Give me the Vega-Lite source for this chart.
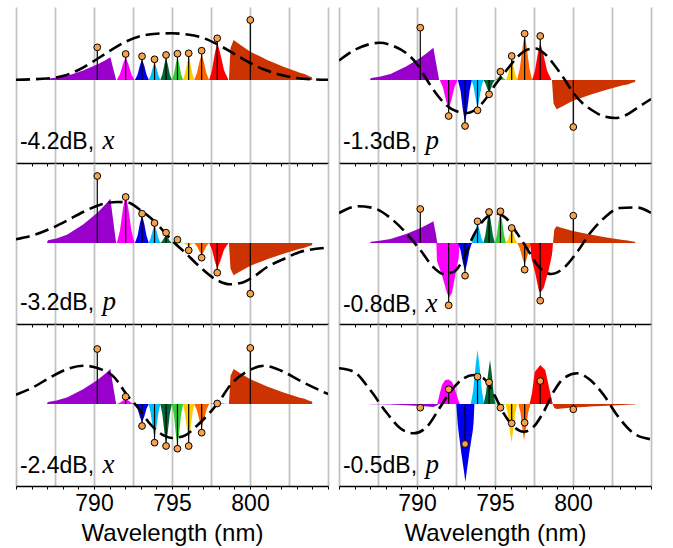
{
"$schema": "https://vega.github.io/schema/vega-lite/v6.json",
"padding": {"left": 15, "top": 7, "right": 5, "bottom": 5},
"background": "white",
"datasets": {"d": [
{"p":1,"c":"v","x":786.98,"y":0},{"p":1,"c":"v","x":787.05,"y":1.4},{"p":1,"c":"v","x":787.6,"y":2.3},{"p":1,"c":"v","x":788.3,"y":4.3},{"p":1,"c":"v","x":789.3,"y":9.5},{"p":1,"c":"v","x":790.2,"y":15.4},{"p":1,"c":"v","x":790.7,"y":19.5},{"p":1,"c":"v","x":791.05,"y":22.7},{"p":1,"c":"v","x":791.25,"y":10.2},{"p":1,"c":"v","x":791.42,"y":0},
{"p":1,"c":"m","x":791.46,"y":0},{"p":1,"c":"m","x":791.66,"y":5.7},{"p":1,"c":"m","x":791.86,"y":15.9},{"p":1,"c":"m","x":792.03,"y":22.7},{"p":1,"c":"m","x":792.2,"y":15.9},{"p":1,"c":"m","x":792.4,"y":5.7},{"p":1,"c":"m","x":792.6,"y":0},
{"p":1,"c":"bl","x":792.62,"y":0},{"p":1,"c":"bl","x":792.79,"y":5.2},{"p":1,"c":"bl","x":792.94,"y":14.5},{"p":1,"c":"bl","x":793.08,"y":20.7},{"p":1,"c":"bl","x":793.22,"y":14.5},{"p":1,"c":"bl","x":793.37,"y":5.2},{"p":1,"c":"bl","x":793.52,"y":0},
{"p":1,"c":"cy","x":793.5,"y":0},{"p":1,"c":"cy","x":793.63,"y":4.4},{"p":1,"c":"cy","x":793.77,"y":12.4},{"p":1,"c":"cy","x":793.88,"y":17.7},{"p":1,"c":"cy","x":793.99,"y":12.4},{"p":1,"c":"cy","x":794.13,"y":4.4},{"p":1,"c":"cy","x":794.26,"y":0},
{"p":1,"c":"dg","x":794.25,"y":0},{"p":1,"c":"dg","x":794.38,"y":5.5},{"p":1,"c":"dg","x":794.51,"y":15.4},{"p":1,"c":"dg","x":794.62,"y":22},{"p":1,"c":"dg","x":794.73,"y":15.4},{"p":1,"c":"dg","x":794.86,"y":5.5},{"p":1,"c":"dg","x":794.99,"y":0},
{"p":1,"c":"g","x":794.99,"y":0},{"p":1,"c":"g","x":795.12,"y":5.8},{"p":1,"c":"g","x":795.24,"y":16.1},{"p":1,"c":"g","x":795.35,"y":23},{"p":1,"c":"g","x":795.46,"y":16.1},{"p":1,"c":"g","x":795.58,"y":5.8},{"p":1,"c":"g","x":795.71,"y":0},
{"p":1,"c":"y","x":795.7,"y":0},{"p":1,"c":"y","x":795.83,"y":5.9},{"p":1,"c":"y","x":795.96,"y":16.5},{"p":1,"c":"y","x":796.07,"y":23.5},{"p":1,"c":"y","x":796.18,"y":16.5},{"p":1,"c":"y","x":796.31,"y":5.9},{"p":1,"c":"y","x":796.44,"y":0},
{"p":1,"c":"o","x":796.42,"y":0},{"p":1,"c":"o","x":796.59,"y":6.5},{"p":1,"c":"o","x":796.76,"y":18.2},{"p":1,"c":"o","x":796.9,"y":26},{"p":1,"c":"o","x":797.04,"y":18.2},{"p":1,"c":"o","x":797.21,"y":6.5},{"p":1,"c":"o","x":797.38,"y":0},
{"p":1,"c":"r","x":797.38,"y":0},{"p":1,"c":"r","x":797.56,"y":9.4},{"p":1,"c":"r","x":797.74,"y":26.3},{"p":1,"c":"r","x":797.9,"y":37.5},{"p":1,"c":"r","x":798.1,"y":26.3},{"p":1,"c":"r","x":798.34,"y":9.4},{"p":1,"c":"r","x":798.62,"y":0},
{"p":1,"c":"or","x":798.65,"y":0},{"p":1,"c":"or","x":798.75,"y":32},{"p":1,"c":"or","x":798.95,"y":40},{"p":1,"c":"or","x":799.3,"y":36},{"p":1,"c":"or","x":800.0,"y":28.4},{"p":1,"c":"or","x":800.7,"y":23.2},{"p":1,"c":"or","x":801.1,"y":20},{"p":1,"c":"or","x":802.15,"y":13.2},{"p":1,"c":"or","x":803.2,"y":7.2},{"p":1,"c":"or","x":803.5,"y":6},{"p":1,"c":"or","x":803.75,"y":4},{"p":1,"c":"or","x":803.97,"y":2.8},{"p":1,"c":"or","x":804.0,"y":0},
{"p":1,"c":"ds","x":785,"y":0.3},{"p":1,"c":"ds","x":786,"y":0.7},{"p":1,"c":"ds","x":787,"y":1.5},{"p":1,"c":"ds","x":788,"y":4},{"p":1,"c":"ds","x":789,"y":10},{"p":1,"c":"ds","x":790,"y":19},{"p":1,"c":"ds","x":791,"y":29},{"p":1,"c":"ds","x":792,"y":38},{"p":1,"c":"ds","x":793,"y":44},{"p":1,"c":"ds","x":794,"y":46.3},{"p":1,"c":"ds","x":795,"y":46.7},{"p":1,"c":"ds","x":796,"y":45.5},{"p":1,"c":"ds","x":797,"y":42},{"p":1,"c":"ds","x":798,"y":35},{"p":1,"c":"ds","x":799,"y":26},{"p":1,"c":"ds","x":800,"y":17},{"p":1,"c":"ds","x":801,"y":10},{"p":1,"c":"ds","x":802,"y":5},{"p":1,"c":"ds","x":803,"y":2},{"p":1,"c":"ds","x":804,"y":0.7},{"p":1,"c":"ds","x":805,"y":0.3},
{"p":1,"c":"st","x":790.21,"y":32.7},{"p":1,"c":"st","x":792.03,"y":26},{"p":1,"c":"st","x":793.08,"y":23.7},{"p":1,"c":"st","x":793.88,"y":20.7},{"p":1,"c":"st","x":794.62,"y":25},{"p":1,"c":"st","x":795.35,"y":26.3},{"p":1,"c":"st","x":796.07,"y":26.7},{"p":1,"c":"st","x":796.9,"y":29.3},{"p":1,"c":"st","x":797.9,"y":41.7},{"p":1,"c":"st","x":800.02,"y":60},

{"p":2,"c":"v","x":786.98,"y":0},{"p":2,"c":"v","x":787.05,"y":1.9},{"p":2,"c":"v","x":787.6,"y":3.2},{"p":2,"c":"v","x":788.3,"y":6.1},{"p":2,"c":"v","x":789.3,"y":13.6},{"p":2,"c":"v","x":790.2,"y":22},{"p":2,"c":"v","x":790.7,"y":27.8},{"p":2,"c":"v","x":791.05,"y":32.3},{"p":2,"c":"v","x":791.25,"y":14.5},{"p":2,"c":"v","x":791.42,"y":0},
{"p":2,"c":"m","x":791.46,"y":0},{"p":2,"c":"m","x":791.66,"y":-7.3},{"p":2,"c":"m","x":791.86,"y":-20.5},{"p":2,"c":"m","x":792.03,"y":-29.3},{"p":2,"c":"m","x":792.2,"y":-20.5},{"p":2,"c":"m","x":792.4,"y":-7.3},{"p":2,"c":"m","x":792.6,"y":0},
{"p":2,"c":"bl","x":792.62,"y":0},{"p":2,"c":"bl","x":792.79,"y":-10.7},{"p":2,"c":"bl","x":792.94,"y":-29.9},{"p":2,"c":"bl","x":793.08,"y":-42.7},{"p":2,"c":"bl","x":793.22,"y":-29.9},{"p":2,"c":"bl","x":793.37,"y":-10.7},{"p":2,"c":"bl","x":793.52,"y":0},
{"p":2,"c":"cy","x":793.5,"y":0},{"p":2,"c":"cy","x":793.63,"y":-6.9},{"p":2,"c":"cy","x":793.77,"y":-19.4},{"p":2,"c":"cy","x":793.88,"y":-27.7},{"p":2,"c":"cy","x":793.99,"y":-19.4},{"p":2,"c":"cy","x":794.13,"y":-6.9},{"p":2,"c":"cy","x":794.26,"y":0},
{"p":2,"c":"dg","x":794.25,"y":0},{"p":2,"c":"dg","x":794.38,"y":-3.2},{"p":2,"c":"dg","x":794.51,"y":-8.9},{"p":2,"c":"dg","x":794.62,"y":-12.7},{"p":2,"c":"dg","x":794.73,"y":-8.9},{"p":2,"c":"dg","x":794.86,"y":-3.2},{"p":2,"c":"dg","x":794.99,"y":0},
{"p":2,"c":"g","x":794.99,"y":0},{"p":2,"c":"g","x":795.12,"y":1.2},{"p":2,"c":"g","x":795.24,"y":3.3},{"p":2,"c":"g","x":795.35,"y":4.7},{"p":2,"c":"g","x":795.46,"y":3.3},{"p":2,"c":"g","x":795.58,"y":1.2},{"p":2,"c":"g","x":795.71,"y":0},
{"p":2,"c":"y","x":795.7,"y":0},{"p":2,"c":"y","x":795.83,"y":5.2},{"p":2,"c":"y","x":795.96,"y":14.5},{"p":2,"c":"y","x":796.07,"y":20.7},{"p":2,"c":"y","x":796.18,"y":14.5},{"p":2,"c":"y","x":796.31,"y":5.2},{"p":2,"c":"y","x":796.44,"y":0},
{"p":2,"c":"o","x":796.42,"y":0},{"p":2,"c":"o","x":796.59,"y":11.4},{"p":2,"c":"o","x":796.76,"y":32},{"p":2,"c":"o","x":796.9,"y":45.7},{"p":2,"c":"o","x":797.04,"y":32},{"p":2,"c":"o","x":797.21,"y":11.4},{"p":2,"c":"o","x":797.38,"y":0},
{"p":2,"c":"r","x":797.38,"y":0},{"p":2,"c":"r","x":797.56,"y":9.3},{"p":2,"c":"r","x":797.74,"y":26.1},{"p":2,"c":"r","x":797.9,"y":37.3},{"p":2,"c":"r","x":798.1,"y":26.1},{"p":2,"c":"r","x":798.34,"y":9.3},{"p":2,"c":"r","x":798.62,"y":0},
{"p":2,"c":"or","x":798.65,"y":0},{"p":2,"c":"or","x":798.75,"y":-23.4},{"p":2,"c":"or","x":798.95,"y":-29.3},{"p":2,"c":"or","x":799.3,"y":-26.4},{"p":2,"c":"or","x":800.0,"y":-20.8},{"p":2,"c":"or","x":800.7,"y":-17},{"p":2,"c":"or","x":801.1,"y":-14.7},{"p":2,"c":"or","x":802.15,"y":-9.7},{"p":2,"c":"or","x":803.2,"y":-5.3},{"p":2,"c":"or","x":803.5,"y":-4.4},{"p":2,"c":"or","x":803.75,"y":-2.9},{"p":2,"c":"or","x":803.97,"y":-2.1},{"p":2,"c":"or","x":804.0,"y":0},
{"p":2,"c":"ds","x":785,"y":19.5},{"p":2,"c":"ds","x":786,"y":30},{"p":2,"c":"ds","x":787,"y":36},{"p":2,"c":"ds","x":787.6,"y":37.3},{"p":2,"c":"ds","x":788.5,"y":34},{"p":2,"c":"ds","x":789.3,"y":27},{"p":2,"c":"ds","x":790,"y":16},{"p":2,"c":"ds","x":790.6,"y":1},{"p":2,"c":"ds","x":791.2,"y":-13},{"p":2,"c":"ds","x":791.8,"y":-24},{"p":2,"c":"ds","x":792.5,"y":-31},{"p":2,"c":"ds","x":793.2,"y":-33},{"p":2,"c":"ds","x":793.8,"y":-29},{"p":2,"c":"ds","x":794.4,"y":-19},{"p":2,"c":"ds","x":795,"y":-5},{"p":2,"c":"ds","x":795.5,"y":5},{"p":2,"c":"ds","x":796,"y":15},{"p":2,"c":"ds","x":796.5,"y":24},{"p":2,"c":"ds","x":797.1,"y":30.5},{"p":2,"c":"ds","x":797.6,"y":31.5},{"p":2,"c":"ds","x":798.2,"y":26},{"p":2,"c":"ds","x":798.8,"y":15},{"p":2,"c":"ds","x":799.4,"y":2},{"p":2,"c":"ds","x":800,"y":-12.5},{"p":2,"c":"ds","x":800.6,"y":-23},{"p":2,"c":"ds","x":801.2,"y":-30},{"p":2,"c":"ds","x":802,"y":-36.5},{"p":2,"c":"ds","x":802.7,"y":-38},{"p":2,"c":"ds","x":803.4,"y":-35},{"p":2,"c":"ds","x":804.2,"y":-27},{"p":2,"c":"ds","x":805,"y":-19},
{"p":2,"c":"st","x":790.21,"y":52.3},{"p":2,"c":"st","x":792.03,"y":-36},{"p":2,"c":"st","x":793.08,"y":-46},{"p":2,"c":"st","x":793.88,"y":-30.3},{"p":2,"c":"st","x":794.62,"y":-14.3},{"p":2,"c":"st","x":795.35,"y":8.3},{"p":2,"c":"st","x":796.07,"y":24},{"p":2,"c":"st","x":796.9,"y":46.3},{"p":2,"c":"st","x":797.9,"y":44},{"p":2,"c":"st","x":800.02,"y":-47},

{"p":3,"c":"v","x":786.98,"y":0},{"p":3,"c":"v","x":787.05,"y":2.7},{"p":3,"c":"v","x":787.6,"y":4.4},{"p":3,"c":"v","x":788.3,"y":8.4},{"p":3,"c":"v","x":789.3,"y":18.6},{"p":3,"c":"v","x":790.2,"y":30.1},{"p":3,"c":"v","x":790.7,"y":38.1},{"p":3,"c":"v","x":791.05,"y":44.3},{"p":3,"c":"v","x":791.25,"y":19.9},{"p":3,"c":"v","x":791.42,"y":0},
{"p":3,"c":"m","x":791.46,"y":0},{"p":3,"c":"m","x":791.66,"y":12.3},{"p":3,"c":"m","x":791.86,"y":34.5},{"p":3,"c":"m","x":792.03,"y":49.3},{"p":3,"c":"m","x":792.2,"y":34.5},{"p":3,"c":"m","x":792.4,"y":12.3},{"p":3,"c":"m","x":792.6,"y":0},
{"p":3,"c":"bl","x":792.62,"y":0},{"p":3,"c":"bl","x":792.79,"y":6.9},{"p":3,"c":"bl","x":792.94,"y":19.4},{"p":3,"c":"bl","x":793.08,"y":27.7},{"p":3,"c":"bl","x":793.22,"y":19.4},{"p":3,"c":"bl","x":793.37,"y":6.9},{"p":3,"c":"bl","x":793.52,"y":0},
{"p":3,"c":"cy","x":793.5,"y":0},{"p":3,"c":"cy","x":793.63,"y":4.7},{"p":3,"c":"cy","x":793.77,"y":13.1},{"p":3,"c":"cy","x":793.88,"y":18.7},{"p":3,"c":"cy","x":793.99,"y":13.1},{"p":3,"c":"cy","x":794.13,"y":4.7},{"p":3,"c":"cy","x":794.26,"y":0},
{"p":3,"c":"dg","x":794.25,"y":0},{"p":3,"c":"dg","x":794.38,"y":1.9},{"p":3,"c":"dg","x":794.51,"y":5.4},{"p":3,"c":"dg","x":794.62,"y":7.7},{"p":3,"c":"dg","x":794.73,"y":5.4},{"p":3,"c":"dg","x":794.86,"y":1.9},{"p":3,"c":"dg","x":794.99,"y":0},
{"p":3,"c":"g","x":794.99,"y":0},{"p":3,"c":"g","x":795.12,"y":0.4},{"p":3,"c":"g","x":795.24,"y":1.1},{"p":3,"c":"g","x":795.35,"y":1.5},{"p":3,"c":"g","x":795.46,"y":1.1},{"p":3,"c":"g","x":795.58,"y":0.4},{"p":3,"c":"g","x":795.71,"y":0},
{"p":3,"c":"y","x":795.7,"y":0},{"p":3,"c":"y","x":795.83,"y":-0.8},{"p":3,"c":"y","x":795.96,"y":-2.3},{"p":3,"c":"y","x":796.07,"y":-3.3},{"p":3,"c":"y","x":796.18,"y":-2.3},{"p":3,"c":"y","x":796.31,"y":-0.8},{"p":3,"c":"y","x":796.44,"y":0},
{"p":3,"c":"o","x":796.42,"y":0},{"p":3,"c":"o","x":796.59,"y":-3.1},{"p":3,"c":"o","x":796.76,"y":-8.6},{"p":3,"c":"o","x":796.9,"y":-12.3},{"p":3,"c":"o","x":797.04,"y":-8.6},{"p":3,"c":"o","x":797.21,"y":-3.1},{"p":3,"c":"o","x":797.38,"y":0},
{"p":3,"c":"r","x":797.38,"y":0},{"p":3,"c":"r","x":797.56,"y":-6.4},{"p":3,"c":"r","x":797.74,"y":-18},{"p":3,"c":"r","x":797.9,"y":-25.7},{"p":3,"c":"r","x":798.1,"y":-18},{"p":3,"c":"r","x":798.34,"y":-6.4},{"p":3,"c":"r","x":798.62,"y":0},
{"p":3,"c":"or","x":798.65,"y":0},{"p":3,"c":"or","x":798.75,"y":-25.8},{"p":3,"c":"or","x":798.95,"y":-32.3},{"p":3,"c":"or","x":799.3,"y":-29.1},{"p":3,"c":"or","x":800.0,"y":-22.9},{"p":3,"c":"or","x":800.7,"y":-18.7},{"p":3,"c":"or","x":801.1,"y":-16.2},{"p":3,"c":"or","x":802.15,"y":-10.7},{"p":3,"c":"or","x":803.2,"y":-5.8},{"p":3,"c":"or","x":803.5,"y":-4.8},{"p":3,"c":"or","x":803.75,"y":-3.2},{"p":3,"c":"or","x":803.97,"y":-2.3},{"p":3,"c":"or","x":804.0,"y":0},
{"p":3,"c":"ds","x":785,"y":3.7},{"p":3,"c":"ds","x":786.1,"y":7.7},{"p":3,"c":"ds","x":787.2,"y":14.3},{"p":3,"c":"ds","x":788.3,"y":22.7},{"p":3,"c":"ds","x":789.3,"y":31},{"p":3,"c":"ds","x":790.4,"y":38.3},{"p":3,"c":"ds","x":791.5,"y":41},{"p":3,"c":"ds","x":792.1,"y":40.7},{"p":3,"c":"ds","x":793,"y":32.7},{"p":3,"c":"ds","x":793.8,"y":22.7},{"p":3,"c":"ds","x":794.7,"y":7.7},{"p":3,"c":"ds","x":795.1,"y":1},{"p":3,"c":"ds","x":795.8,"y":-9},{"p":3,"c":"ds","x":796.8,"y":-24},{"p":3,"c":"ds","x":797.9,"y":-37.3},{"p":3,"c":"ds","x":798.7,"y":-41.3},{"p":3,"c":"ds","x":799.4,"y":-40},{"p":3,"c":"ds","x":800.2,"y":-34},{"p":3,"c":"ds","x":801.1,"y":-24},{"p":3,"c":"ds","x":802.2,"y":-15.7},{"p":3,"c":"ds","x":803.2,"y":-9},{"p":3,"c":"ds","x":805,"y":-4.7},
{"p":3,"c":"st","x":790.21,"y":67},{"p":3,"c":"st","x":792.03,"y":46},{"p":3,"c":"st","x":793.08,"y":29.3},{"p":3,"c":"st","x":793.88,"y":20},{"p":3,"c":"st","x":794.62,"y":10.3},{"p":3,"c":"st","x":795.35,"y":3.3},{"p":3,"c":"st","x":796.07,"y":-7.3},{"p":3,"c":"st","x":796.9,"y":-14.7},{"p":3,"c":"st","x":797.9,"y":-29.7},{"p":3,"c":"st","x":800.02,"y":-50.7},

{"p":4,"c":"v","x":786.98,"y":0},{"p":4,"c":"v","x":787.05,"y":1.3},{"p":4,"c":"v","x":787.6,"y":2.2},{"p":4,"c":"v","x":788.3,"y":4.1},{"p":4,"c":"v","x":789.3,"y":9.1},{"p":4,"c":"v","x":790.2,"y":14.8},{"p":4,"c":"v","x":790.7,"y":18.7},{"p":4,"c":"v","x":791.05,"y":21.7},{"p":4,"c":"v","x":791.2,"y":9.8},{"p":4,"c":"v","x":791.3,"y":0},
{"p":4,"c":"m","x":791.24,"y":0},{"p":4,"c":"m","x":791.28,"y":-18},{"p":4,"c":"m","x":791.6,"y":-32},{"p":4,"c":"m","x":791.92,"y":-50},{"p":4,"c":"m","x":792.05,"y":-54.5},{"p":4,"c":"m","x":792.24,"y":-50},{"p":4,"c":"m","x":792.46,"y":-32},{"p":4,"c":"m","x":792.67,"y":-15},{"p":4,"c":"m","x":792.73,"y":0},
{"p":4,"c":"bl","x":792.62,"y":0},{"p":4,"c":"bl","x":792.79,"y":-7.1},{"p":4,"c":"bl","x":792.94,"y":-19.8},{"p":4,"c":"bl","x":793.08,"y":-28.3},{"p":4,"c":"bl","x":793.22,"y":-19.8},{"p":4,"c":"bl","x":793.37,"y":-7.1},{"p":4,"c":"bl","x":793.52,"y":0},
{"p":4,"c":"cy","x":793.5,"y":0},{"p":4,"c":"cy","x":793.63,"y":5},{"p":4,"c":"cy","x":793.77,"y":14},{"p":4,"c":"cy","x":793.88,"y":20},{"p":4,"c":"cy","x":793.99,"y":14},{"p":4,"c":"cy","x":794.13,"y":5},{"p":4,"c":"cy","x":794.26,"y":0},
{"p":4,"c":"dg","x":794.25,"y":0},{"p":4,"c":"dg","x":794.38,"y":7.9},{"p":4,"c":"dg","x":794.51,"y":22.2},{"p":4,"c":"dg","x":794.62,"y":31.7},{"p":4,"c":"dg","x":794.73,"y":22.2},{"p":4,"c":"dg","x":794.86,"y":7.9},{"p":4,"c":"dg","x":794.99,"y":0},
{"p":4,"c":"g","x":794.99,"y":0},{"p":4,"c":"g","x":795.12,"y":7.9},{"p":4,"c":"g","x":795.24,"y":22.2},{"p":4,"c":"g","x":795.35,"y":31.7},{"p":4,"c":"g","x":795.46,"y":22.2},{"p":4,"c":"g","x":795.58,"y":7.9},{"p":4,"c":"g","x":795.71,"y":0},
{"p":4,"c":"y","x":795.7,"y":0},{"p":4,"c":"y","x":795.83,"y":3.3},{"p":4,"c":"y","x":795.96,"y":9.3},{"p":4,"c":"y","x":796.07,"y":13.3},{"p":4,"c":"y","x":796.18,"y":9.3},{"p":4,"c":"y","x":796.31,"y":3.3},{"p":4,"c":"y","x":796.44,"y":0},
{"p":4,"c":"o","x":796.42,"y":0},{"p":4,"c":"o","x":796.59,"y":-5.4},{"p":4,"c":"o","x":796.76,"y":-15.2},{"p":4,"c":"o","x":796.9,"y":-21.7},{"p":4,"c":"o","x":797.04,"y":-15.2},{"p":4,"c":"o","x":797.21,"y":-5.4},{"p":4,"c":"o","x":797.38,"y":0},
{"p":4,"c":"r","x":797.26,"y":0},{"p":4,"c":"r","x":797.33,"y":-15},{"p":4,"c":"r","x":797.58,"y":-30},{"p":4,"c":"r","x":797.8,"y":-47},{"p":4,"c":"r","x":797.9,"y":-50},{"p":4,"c":"r","x":798.12,"y":-45},{"p":4,"c":"r","x":798.44,"y":-27},{"p":4,"c":"r","x":798.65,"y":-12},{"p":4,"c":"r","x":798.72,"y":0},
{"p":4,"c":"or","x":798.72,"y":0},{"p":4,"c":"or","x":798.8,"y":13.4},{"p":4,"c":"or","x":798.95,"y":16.7},{"p":4,"c":"or","x":799.3,"y":15},{"p":4,"c":"or","x":800.0,"y":11.9},{"p":4,"c":"or","x":800.7,"y":9.7},{"p":4,"c":"or","x":801.1,"y":8.4},{"p":4,"c":"or","x":802.15,"y":5.5},{"p":4,"c":"or","x":803.2,"y":3},{"p":4,"c":"or","x":803.5,"y":2.5},{"p":4,"c":"or","x":803.75,"y":1.7},{"p":4,"c":"or","x":803.97,"y":1.2},{"p":4,"c":"or","x":804.0,"y":0},
{"p":4,"c":"ds","x":785,"y":30},{"p":4,"c":"ds","x":786.2,"y":36.7},{"p":4,"c":"ds","x":787.2,"y":35},{"p":4,"c":"ds","x":788.3,"y":25},{"p":4,"c":"ds","x":789.3,"y":10},{"p":4,"c":"ds","x":790.2,"y":-6.7},{"p":4,"c":"ds","x":791.1,"y":-25},{"p":4,"c":"ds","x":791.7,"y":-31},{"p":4,"c":"ds","x":792.4,"y":-28.3},{"p":4,"c":"ds","x":793,"y":-15},{"p":4,"c":"ds","x":793.6,"y":6.7},{"p":4,"c":"ds","x":794.3,"y":23.3},{"p":4,"c":"ds","x":795,"y":30},{"p":4,"c":"ds","x":795.7,"y":25},{"p":4,"c":"ds","x":796.4,"y":10},{"p":4,"c":"ds","x":797.1,"y":-6.7},{"p":4,"c":"ds","x":797.7,"y":-21.7},{"p":4,"c":"ds","x":798.6,"y":-31},{"p":4,"c":"ds","x":799.4,"y":-25},{"p":4,"c":"ds","x":800.3,"y":-8.3},{"p":4,"c":"ds","x":801.1,"y":10},{"p":4,"c":"ds","x":802,"y":25},{"p":4,"c":"ds","x":803,"y":35},{"p":4,"c":"ds","x":804.1,"y":35.5},{"p":4,"c":"ds","x":805,"y":30},
{"p":4,"c":"st","x":790.21,"y":34},{"p":4,"c":"st","x":792.03,"y":-62.3},{"p":4,"c":"st","x":793.08,"y":-32.7},{"p":4,"c":"st","x":793.88,"y":21.7},{"p":4,"c":"st","x":794.62,"y":31},{"p":4,"c":"st","x":795.35,"y":31.7},{"p":4,"c":"st","x":796.07,"y":15},{"p":4,"c":"st","x":796.9,"y":-26.7},{"p":4,"c":"st","x":797.9,"y":-57.7},{"p":4,"c":"st","x":800.02,"y":27.3},

{"p":5,"c":"v","x":786.98,"y":0},{"p":5,"c":"v","x":787.05,"y":2.1},{"p":5,"c":"v","x":787.6,"y":3.5},{"p":5,"c":"v","x":788.3,"y":6.7},{"p":5,"c":"v","x":789.3,"y":14.7},{"p":5,"c":"v","x":790.2,"y":23.8},{"p":5,"c":"v","x":790.7,"y":30.1},{"p":5,"c":"v","x":791.05,"y":35},{"p":5,"c":"v","x":791.25,"y":15.8},{"p":5,"c":"v","x":791.42,"y":0},
{"p":5,"c":"m","x":791.46,"y":0},{"p":5,"c":"m","x":791.66,"y":1.3},{"p":5,"c":"m","x":791.86,"y":3.5},{"p":5,"c":"m","x":792.03,"y":5},{"p":5,"c":"m","x":792.2,"y":3.5},{"p":5,"c":"m","x":792.4,"y":1.3},{"p":5,"c":"m","x":792.6,"y":0},
{"p":5,"c":"bl","x":792.62,"y":0},{"p":5,"c":"bl","x":792.79,"y":-4.6},{"p":5,"c":"bl","x":792.94,"y":-12.8},{"p":5,"c":"bl","x":793.08,"y":-18.3},{"p":5,"c":"bl","x":793.22,"y":-12.8},{"p":5,"c":"bl","x":793.37,"y":-4.6},{"p":5,"c":"bl","x":793.52,"y":0},
{"p":5,"c":"cy","x":793.5,"y":0},{"p":5,"c":"cy","x":793.63,"y":-8.8},{"p":5,"c":"cy","x":793.77,"y":-24.5},{"p":5,"c":"cy","x":793.88,"y":-35},{"p":5,"c":"cy","x":793.99,"y":-24.5},{"p":5,"c":"cy","x":794.13,"y":-8.8},{"p":5,"c":"cy","x":794.26,"y":0},
{"p":5,"c":"dg","x":794.25,"y":0},{"p":5,"c":"dg","x":794.38,"y":-10},{"p":5,"c":"dg","x":794.51,"y":-28},{"p":5,"c":"dg","x":794.62,"y":-40},{"p":5,"c":"dg","x":794.73,"y":-28},{"p":5,"c":"dg","x":794.86,"y":-10},{"p":5,"c":"dg","x":794.99,"y":0},
{"p":5,"c":"g","x":794.99,"y":0},{"p":5,"c":"g","x":795.12,"y":-10.4},{"p":5,"c":"g","x":795.24,"y":-29.2},{"p":5,"c":"g","x":795.35,"y":-41.7},{"p":5,"c":"g","x":795.46,"y":-29.2},{"p":5,"c":"g","x":795.58,"y":-10.4},{"p":5,"c":"g","x":795.71,"y":0},
{"p":5,"c":"y","x":795.7,"y":0},{"p":5,"c":"y","x":795.83,"y":-9.2},{"p":5,"c":"y","x":795.96,"y":-25.7},{"p":5,"c":"y","x":796.07,"y":-36.7},{"p":5,"c":"y","x":796.18,"y":-25.7},{"p":5,"c":"y","x":796.31,"y":-9.2},{"p":5,"c":"y","x":796.44,"y":0},
{"p":5,"c":"o","x":796.42,"y":0},{"p":5,"c":"o","x":796.59,"y":-5.8},{"p":5,"c":"o","x":796.76,"y":-16.3},{"p":5,"c":"o","x":796.9,"y":-23.3},{"p":5,"c":"o","x":797.04,"y":-16.3},{"p":5,"c":"o","x":797.21,"y":-5.8},{"p":5,"c":"o","x":797.38,"y":0},
{"p":5,"c":"r","x":797.38,"y":0},{"p":5,"c":"r","x":797.56,"y":0.3},{"p":5,"c":"r","x":797.74,"y":0.7},{"p":5,"c":"r","x":797.9,"y":1},{"p":5,"c":"r","x":798.1,"y":0.7},{"p":5,"c":"r","x":798.34,"y":0.3},{"p":5,"c":"r","x":798.62,"y":0},
{"p":5,"c":"or","x":798.65,"y":0},{"p":5,"c":"or","x":798.75,"y":28},{"p":5,"c":"or","x":798.95,"y":35},{"p":5,"c":"or","x":799.3,"y":31.5},{"p":5,"c":"or","x":800.0,"y":24.9},{"p":5,"c":"or","x":800.7,"y":20.3},{"p":5,"c":"or","x":801.1,"y":17.5},{"p":5,"c":"or","x":802.15,"y":11.6},{"p":5,"c":"or","x":803.2,"y":6.3},{"p":5,"c":"or","x":803.5,"y":5.3},{"p":5,"c":"or","x":803.75,"y":3.5},{"p":5,"c":"or","x":803.97,"y":2.5},{"p":5,"c":"or","x":804.0,"y":0},
{"p":5,"c":"ds","x":785,"y":9.3},{"p":5,"c":"ds","x":786.1,"y":16.7},{"p":5,"c":"ds","x":787.2,"y":26.7},{"p":5,"c":"ds","x":788.3,"y":35},{"p":5,"c":"ds","x":789.3,"y":38.3},{"p":5,"c":"ds","x":790.4,"y":35},{"p":5,"c":"ds","x":791.3,"y":26.7},{"p":5,"c":"ds","x":792.1,"y":9.3},{"p":5,"c":"ds","x":792.8,"y":-3.3},{"p":5,"c":"ds","x":793.6,"y":-20},{"p":5,"c":"ds","x":794.5,"y":-31.7},{"p":5,"c":"ds","x":795,"y":-34},{"p":5,"c":"ds","x":795.8,"y":-31.7},{"p":5,"c":"ds","x":796.6,"y":-21.7},{"p":5,"c":"ds","x":797.5,"y":-7.3},{"p":5,"c":"ds","x":797.9,"y":0},{"p":5,"c":"ds","x":798.8,"y":20},{"p":5,"c":"ds","x":799.9,"y":33.3},{"p":5,"c":"ds","x":800.9,"y":38.3},{"p":5,"c":"ds","x":802,"y":33.3},{"p":5,"c":"ds","x":803.2,"y":23.3},{"p":5,"c":"ds","x":805,"y":10},
{"p":5,"c":"st","x":790.21,"y":55},{"p":5,"c":"st","x":792.03,"y":7.3},{"p":5,"c":"st","x":793.08,"y":-22},{"p":5,"c":"st","x":793.88,"y":-38.7},{"p":5,"c":"st","x":794.62,"y":-42},{"p":5,"c":"st","x":795.35,"y":-44.7},{"p":5,"c":"st","x":796.07,"y":-42},{"p":5,"c":"st","x":796.9,"y":-28.7},{"p":5,"c":"st","x":797.9,"y":0.5},{"p":5,"c":"st","x":800.02,"y":56},

{"p":6,"c":"v","x":786.98,"y":0},{"p":6,"c":"v","x":787.05,"y":-0.2},{"p":6,"c":"v","x":787.6,"y":-0.3},{"p":6,"c":"v","x":788.3,"y":-0.6},{"p":6,"c":"v","x":789.3,"y":-1.3},{"p":6,"c":"v","x":790.2,"y":-2},{"p":6,"c":"v","x":790.7,"y":-2.6},{"p":6,"c":"v","x":791.05,"y":-3},{"p":6,"c":"v","x":791.25,"y":-1.4},{"p":6,"c":"v","x":791.42,"y":0},
{"p":6,"c":"m","x":791.3,"y":0},{"p":6,"c":"m","x":791.45,"y":10},{"p":6,"c":"m","x":791.6,"y":19},{"p":6,"c":"m","x":791.8,"y":24},{"p":6,"c":"m","x":792.03,"y":24.5},{"p":6,"c":"m","x":792.25,"y":22},{"p":6,"c":"m","x":792.45,"y":14},{"p":6,"c":"m","x":792.62,"y":5},{"p":6,"c":"m","x":792.75,"y":0},
{"p":6,"c":"bl","x":792.52,"y":0},{"p":6,"c":"bl","x":792.6,"y":-18},{"p":6,"c":"bl","x":792.65,"y":-26},{"p":6,"c":"bl","x":792.84,"y":-49},{"p":6,"c":"bl","x":793.0,"y":-66},{"p":6,"c":"bl","x":793.1,"y":-78},{"p":6,"c":"bl","x":793.2,"y":-66},{"p":6,"c":"bl","x":793.35,"y":-49},{"p":6,"c":"bl","x":793.58,"y":-26},{"p":6,"c":"bl","x":793.63,"y":-18},{"p":6,"c":"bl","x":793.68,"y":0},
{"p":6,"c":"cy","x":793.45,"y":0},{"p":6,"c":"cy","x":793.6,"y":13.5},{"p":6,"c":"cy","x":793.75,"y":37.8},{"p":6,"c":"cy","x":793.88,"y":54},{"p":6,"c":"cy","x":794.01,"y":37.8},{"p":6,"c":"cy","x":794.16,"y":13.5},{"p":6,"c":"cy","x":794.3,"y":0},
{"p":6,"c":"dg","x":794.27,"y":0},{"p":6,"c":"dg","x":794.42,"y":11},{"p":6,"c":"dg","x":794.56,"y":30.8},{"p":6,"c":"dg","x":794.68,"y":44},{"p":6,"c":"dg","x":794.79,"y":30.8},{"p":6,"c":"dg","x":794.91,"y":11},{"p":6,"c":"dg","x":795.02,"y":0},
{"p":6,"c":"g","x":794.99,"y":0},{"p":6,"c":"g","x":795.12,"y":-0.5},{"p":6,"c":"g","x":795.24,"y":-1.4},{"p":6,"c":"g","x":795.35,"y":-2},{"p":6,"c":"g","x":795.46,"y":-1.4},{"p":6,"c":"g","x":795.58,"y":-0.5},{"p":6,"c":"g","x":795.71,"y":0},
{"p":6,"c":"y","x":795.68,"y":0},{"p":6,"c":"y","x":795.82,"y":-9.7},{"p":6,"c":"y","x":795.95,"y":-27.1},{"p":6,"c":"y","x":796.05,"y":-38.7},{"p":6,"c":"y","x":796.16,"y":-27.1},{"p":6,"c":"y","x":796.29,"y":-9.7},{"p":6,"c":"y","x":796.42,"y":0},
{"p":6,"c":"o","x":796.5,"y":0},{"p":6,"c":"o","x":796.64,"y":-9},{"p":6,"c":"o","x":796.76,"y":-25.2},{"p":6,"c":"o","x":796.86,"y":-36},{"p":6,"c":"o","x":796.98,"y":-25.2},{"p":6,"c":"o","x":797.12,"y":-9},{"p":6,"c":"o","x":797.28,"y":0},
{"p":6,"c":"r","x":797.22,"y":0},{"p":6,"c":"r","x":797.37,"y":11},{"p":6,"c":"r","x":797.55,"y":32},{"p":6,"c":"r","x":797.9,"y":39},{"p":6,"c":"r","x":798.22,"y":34},{"p":6,"c":"r","x":798.5,"y":14},{"p":6,"c":"r","x":798.7,"y":0},
{"p":6,"c":"or","x":798.7,"y":0},{"p":6,"c":"or","x":798.8,"y":-4},{"p":6,"c":"or","x":798.95,"y":-5},{"p":6,"c":"or","x":799.3,"y":-4.5},{"p":6,"c":"or","x":800.0,"y":-3.6},{"p":6,"c":"or","x":800.7,"y":-2.9},{"p":6,"c":"or","x":801.1,"y":-2.5},{"p":6,"c":"or","x":802.15,"y":-1.7},{"p":6,"c":"or","x":803.2,"y":-0.9},{"p":6,"c":"or","x":803.5,"y":-0.8},{"p":6,"c":"or","x":803.75,"y":-0.5},{"p":6,"c":"or","x":803.97,"y":-0.4},{"p":6,"c":"or","x":804.0,"y":0},
{"p":6,"c":"ds","x":785,"y":35.7},{"p":6,"c":"ds","x":785.94,"y":32.3},{"p":6,"c":"ds","x":787,"y":14},{"p":6,"c":"ds","x":788.08,"y":-9.3},{"p":6,"c":"ds","x":788.93,"y":-24.3},{"p":6,"c":"ds","x":789.79,"y":-29.3},{"p":6,"c":"ds","x":790.64,"y":-22.7},{"p":6,"c":"ds","x":791.5,"y":-2.7},{"p":6,"c":"ds","x":792.14,"y":12.3},{"p":6,"c":"ds","x":792.99,"y":25.7},{"p":6,"c":"ds","x":793.63,"y":29},{"p":6,"c":"ds","x":794.27,"y":25.7},{"p":6,"c":"ds","x":795.02,"y":7.3},{"p":6,"c":"ds","x":795.56,"y":-9.3},{"p":6,"c":"ds","x":796.2,"y":-22.7},{"p":6,"c":"ds","x":796.84,"y":-27.7},{"p":6,"c":"ds","x":797.48,"y":-22.7},{"p":6,"c":"ds","x":798.12,"y":-7.7},{"p":6,"c":"ds","x":798.76,"y":12.3},{"p":6,"c":"ds","x":799.4,"y":25.7},{"p":6,"c":"ds","x":800.26,"y":30.7},{"p":6,"c":"ds","x":801.11,"y":24},{"p":6,"c":"ds","x":801.97,"y":9},{"p":6,"c":"ds","x":802.82,"y":-11},{"p":6,"c":"ds","x":803.89,"y":-29.3},{"p":6,"c":"ds","x":805,"y":-35.3},
{"p":6,"c":"st","x":790.21,"y":-3.7},{"p":6,"c":"st","x":792.03,"y":14.7},{"p":6,"c":"st","x":793.08,"y":-40},{"p":6,"c":"st","x":793.88,"y":27.3},{"p":6,"c":"st","x":794.62,"y":21.7},{"p":6,"c":"st","x":795.35,"y":-3.7},{"p":6,"c":"st","x":796.07,"y":-19.3},{"p":6,"c":"st","x":796.9,"y":-18.7},{"p":6,"c":"st","x":797.9,"y":23},{"p":6,"c":"st","x":800.02,"y":-5.3}
]},
"data": {"name": "d"},
"columns": 2,
"spacing": {"row": 0, "column": 11},
"bounds": "flush",
"resolve": {"scale": {"x": "independent", "y": "independent", "color": "independent"}},
"concat": [
{"width": 312, "height": 156, "layer": [
 {"transform": [{"filter": "datum.p == 1"}],
  "encoding": {
   "x": {"field": "x", "type": "quantitative", "scale": {"domain": [785, 805], "nice": false, "zero": false},
         "axis": {"values": [785,786,787,787.5,788,789,790,791,792,792.5,793,794,795,796,797,797.5,798,799,800,801,802,802.5,803,804,805], "labels": false, "ticks": true, "tickSize": 3, "tickColor": "black", "tickWidth": 1, "tickOpacity": {"condition": {"test": "datum.value % 1 === 0", "value": 1}, "value": 0}, "title": null, "domainColor": "black", "domainWidth": 1.5, "grid": true, "gridColor": "#c2c2c2", "gridWidth": 1.8, "gridOpacity": {"condition": {"test": "datum.value % 2.5 === 0", "value": 1}, "value": 0}}},
   "y": {"field": "y", "type": "quantitative", "stack": null, "scale": {"domain": [-83, 73], "nice": false, "zero": false}, "axis": null}},
  "layer": [
   {"transform": [{"filter": "indexof(['v','m','bl','cy','dg','g','y','o','r','or'], datum.c) >= 0"}], "mark": {"type": "area", "clip": true, "interpolate": "linear"}, "encoding": {"color": {"field": "c", "type": "nominal", "legend": null, "scale": {"domain": ["v","m","bl","cy","dg","g","y","o","r","or"], "range": ["#9900cc","#ff00ff","#0000ee","#00bfff","#006633","#33cc33","#ffcc00","#ff6600","#ff0000","#cc3300"]}}}},
   {"transform": [{"filter": "datum.c == 'ds'"}], "mark": {"type": "line", "color": "black", "strokeWidth": 2.6, "strokeDash": [14, 6], "interpolate": "monotone", "clip": true}, "encoding": {}},
   {"transform": [{"filter": "datum.c == 'st'"}], "mark": {"type": "rule", "color": "black", "strokeWidth": 1.2}, "encoding": {"y2": {"datum": 0}}},
   {"transform": [{"filter": "datum.c == 'st'"}], "mark": {"type": "point", "shape": "circle", "filled": true, "fill": "#f7a24a", "stroke": "black", "strokeWidth": 1, "size": 46, "opacity": 1}}
  ]},
 {"data": {"values": [{"t": "-4.2dB,"}]}, "mark": {"type": "text", "align": "left", "baseline": "alphabetic", "font": "Liberation Sans", "fontSize": 23, "fill": "black"}, "encoding": {"x": {"datum": 785.25, "type": "quantitative", "scale": {"domain": [785, 805], "nice": false, "zero": false}, "axis": {"values": [785,786,787,787.5,788,789,790,791,792,792.5,793,794,795,796,797,797.5,798,799,800,801,802,802.5,803,804,805], "labels": false, "ticks": true, "tickSize": 3, "tickColor": "black", "tickWidth": 1, "tickOpacity": {"condition": {"test": "datum.value % 1 === 0", "value": 1}, "value": 0}, "title": null, "domainColor": "black", "domainWidth": 1.5, "grid": true, "gridColor": "#c2c2c2", "gridWidth": 1.8, "gridOpacity": {"condition": {"test": "datum.value % 2.5 === 0", "value": 1}, "value": 0}}}, "y": {"datum": -69, "type": "quantitative", "scale": {"domain": [-83, 73], "nice": false, "zero": false}, "axis": null}, "text": {"field": "t", "type": "nominal"}}},
 {"data": {"values": [{"t": "x"}]}, "mark": {"type": "text", "align": "left", "baseline": "alphabetic", "font": "Liberation Serif", "fontStyle": "italic", "fontSize": 27, "fill": "black"}, "encoding": {"x": {"datum": 790.54, "type": "quantitative", "scale": {"domain": [785, 805], "nice": false, "zero": false}, "axis": {"values": [785,786,787,787.5,788,789,790,791,792,792.5,793,794,795,796,797,797.5,798,799,800,801,802,802.5,803,804,805], "labels": false, "ticks": true, "tickSize": 3, "tickColor": "black", "tickWidth": 1, "tickOpacity": {"condition": {"test": "datum.value % 1 === 0", "value": 1}, "value": 0}, "title": null, "domainColor": "black", "domainWidth": 1.5, "grid": true, "gridColor": "#c2c2c2", "gridWidth": 1.8, "gridOpacity": {"condition": {"test": "datum.value % 2.5 === 0", "value": 1}, "value": 0}}}, "y": {"datum": -69, "type": "quantitative", "scale": {"domain": [-83, 73], "nice": false, "zero": false}, "axis": null}, "text": {"field": "t", "type": "nominal"}}}
]},
{"width": 312, "height": 156, "layer": [
 {"transform": [{"filter": "datum.p == 2"}],
  "encoding": {
   "x": {"field": "x", "type": "quantitative", "scale": {"domain": [785, 805], "nice": false, "zero": false},
         "axis": {"values": [785,786,787,787.5,788,789,790,791,792,792.5,793,794,795,796,797,797.5,798,799,800,801,802,802.5,803,804,805], "labels": false, "ticks": true, "tickSize": 3, "tickColor": "black", "tickWidth": 1, "tickOpacity": {"condition": {"test": "datum.value % 1 === 0", "value": 1}, "value": 0}, "title": null, "domainColor": "black", "domainWidth": 1.5, "grid": true, "gridColor": "#c2c2c2", "gridWidth": 1.8, "gridOpacity": {"condition": {"test": "datum.value % 2.5 === 0", "value": 1}, "value": 0}}},
   "y": {"field": "y", "type": "quantitative", "stack": null, "scale": {"domain": [-83, 73], "nice": false, "zero": false}, "axis": null}},
  "layer": [
   {"transform": [{"filter": "indexof(['v','m','bl','cy','dg','g','y','o','r','or'], datum.c) >= 0"}], "mark": {"type": "area", "clip": true, "interpolate": "linear"}, "encoding": {"color": {"field": "c", "type": "nominal", "legend": null, "scale": {"domain": ["v","m","bl","cy","dg","g","y","o","r","or"], "range": ["#9900cc","#ff00ff","#0000ee","#00bfff","#006633","#33cc33","#ffcc00","#ff6600","#ff0000","#cc3300"]}}}},
   {"transform": [{"filter": "datum.c == 'ds'"}], "mark": {"type": "line", "color": "black", "strokeWidth": 2.6, "strokeDash": [14, 6], "interpolate": "monotone", "clip": true}, "encoding": {}},
   {"transform": [{"filter": "datum.c == 'st'"}], "mark": {"type": "rule", "color": "black", "strokeWidth": 1.2}, "encoding": {"y2": {"datum": 0}}},
   {"transform": [{"filter": "datum.c == 'st'"}], "mark": {"type": "point", "shape": "circle", "filled": true, "fill": "#f7a24a", "stroke": "black", "strokeWidth": 1, "size": 46, "opacity": 1}}
  ]},
 {"data": {"values": [{"t": "-1.3dB,"}]}, "mark": {"type": "text", "align": "left", "baseline": "alphabetic", "font": "Liberation Sans", "fontSize": 23, "fill": "black"}, "encoding": {"x": {"datum": 785.25, "type": "quantitative", "scale": {"domain": [785, 805], "nice": false, "zero": false}, "axis": {"values": [785,786,787,787.5,788,789,790,791,792,792.5,793,794,795,796,797,797.5,798,799,800,801,802,802.5,803,804,805], "labels": false, "ticks": true, "tickSize": 3, "tickColor": "black", "tickWidth": 1, "tickOpacity": {"condition": {"test": "datum.value % 1 === 0", "value": 1}, "value": 0}, "title": null, "domainColor": "black", "domainWidth": 1.5, "grid": true, "gridColor": "#c2c2c2", "gridWidth": 1.8, "gridOpacity": {"condition": {"test": "datum.value % 2.5 === 0", "value": 1}, "value": 0}}}, "y": {"datum": -69, "type": "quantitative", "scale": {"domain": [-83, 73], "nice": false, "zero": false}, "axis": null}, "text": {"field": "t", "type": "nominal"}}},
 {"data": {"values": [{"t": "p"}]}, "mark": {"type": "text", "align": "left", "baseline": "alphabetic", "font": "Liberation Serif", "fontStyle": "italic", "fontSize": 27, "fill": "black"}, "encoding": {"x": {"datum": 790.54, "type": "quantitative", "scale": {"domain": [785, 805], "nice": false, "zero": false}, "axis": {"values": [785,786,787,787.5,788,789,790,791,792,792.5,793,794,795,796,797,797.5,798,799,800,801,802,802.5,803,804,805], "labels": false, "ticks": true, "tickSize": 3, "tickColor": "black", "tickWidth": 1, "tickOpacity": {"condition": {"test": "datum.value % 1 === 0", "value": 1}, "value": 0}, "title": null, "domainColor": "black", "domainWidth": 1.5, "grid": true, "gridColor": "#c2c2c2", "gridWidth": 1.8, "gridOpacity": {"condition": {"test": "datum.value % 2.5 === 0", "value": 1}, "value": 0}}}, "y": {"datum": -69, "type": "quantitative", "scale": {"domain": [-83, 73], "nice": false, "zero": false}, "axis": null}, "text": {"field": "t", "type": "nominal"}}}
]},
{"width": 312, "height": 161, "layer": [
 {"transform": [{"filter": "datum.p == 3"}],
  "encoding": {
   "x": {"field": "x", "type": "quantitative", "scale": {"domain": [785, 805], "nice": false, "zero": false},
         "axis": {"values": [785,786,787,787.5,788,789,790,791,792,792.5,793,794,795,796,797,797.5,798,799,800,801,802,802.5,803,804,805], "labels": false, "ticks": true, "tickSize": 3, "tickColor": "black", "tickWidth": 1, "tickOpacity": {"condition": {"test": "datum.value % 1 === 0", "value": 1}, "value": 0}, "title": null, "domainColor": "black", "domainWidth": 1.5, "grid": true, "gridColor": "#c2c2c2", "gridWidth": 1.8, "gridOpacity": {"condition": {"test": "datum.value % 2.5 === 0", "value": 1}, "value": 0}}},
   "y": {"field": "y", "type": "quantitative", "stack": null, "scale": {"domain": [-81, 80], "nice": false, "zero": false}, "axis": null}},
  "layer": [
   {"transform": [{"filter": "indexof(['v','m','bl','cy','dg','g','y','o','r','or'], datum.c) >= 0"}], "mark": {"type": "area", "clip": true, "interpolate": "linear"}, "encoding": {"color": {"field": "c", "type": "nominal", "legend": null, "scale": {"domain": ["v","m","bl","cy","dg","g","y","o","r","or"], "range": ["#9900cc","#ff00ff","#0000ee","#00bfff","#006633","#33cc33","#ffcc00","#ff6600","#ff0000","#cc3300"]}}}},
   {"transform": [{"filter": "datum.c == 'ds'"}], "mark": {"type": "line", "color": "black", "strokeWidth": 2.6, "strokeDash": [14, 6], "interpolate": "monotone", "clip": true}, "encoding": {}},
   {"transform": [{"filter": "datum.c == 'st'"}], "mark": {"type": "rule", "color": "black", "strokeWidth": 1.2}, "encoding": {"y2": {"datum": 0}}},
   {"transform": [{"filter": "datum.c == 'st'"}], "mark": {"type": "point", "shape": "circle", "filled": true, "fill": "#f7a24a", "stroke": "black", "strokeWidth": 1, "size": 46, "opacity": 1}}
  ]},
 {"data": {"values": [{"t": "-3.2dB,"}]}, "mark": {"type": "text", "align": "left", "baseline": "alphabetic", "font": "Liberation Sans", "fontSize": 23, "fill": "black"}, "encoding": {"x": {"datum": 785.25, "type": "quantitative", "scale": {"domain": [785, 805], "nice": false, "zero": false}, "axis": {"values": [785,786,787,787.5,788,789,790,791,792,792.5,793,794,795,796,797,797.5,798,799,800,801,802,802.5,803,804,805], "labels": false, "ticks": true, "tickSize": 3, "tickColor": "black", "tickWidth": 1, "tickOpacity": {"condition": {"test": "datum.value % 1 === 0", "value": 1}, "value": 0}, "title": null, "domainColor": "black", "domainWidth": 1.5, "grid": true, "gridColor": "#c2c2c2", "gridWidth": 1.8, "gridOpacity": {"condition": {"test": "datum.value % 2.5 === 0", "value": 1}, "value": 0}}}, "y": {"datum": -67, "type": "quantitative", "scale": {"domain": [-81, 80], "nice": false, "zero": false}, "axis": null}, "text": {"field": "t", "type": "nominal"}}},
 {"data": {"values": [{"t": "p"}]}, "mark": {"type": "text", "align": "left", "baseline": "alphabetic", "font": "Liberation Serif", "fontStyle": "italic", "fontSize": 27, "fill": "black"}, "encoding": {"x": {"datum": 790.54, "type": "quantitative", "scale": {"domain": [785, 805], "nice": false, "zero": false}, "axis": {"values": [785,786,787,787.5,788,789,790,791,792,792.5,793,794,795,796,797,797.5,798,799,800,801,802,802.5,803,804,805], "labels": false, "ticks": true, "tickSize": 3, "tickColor": "black", "tickWidth": 1, "tickOpacity": {"condition": {"test": "datum.value % 1 === 0", "value": 1}, "value": 0}, "title": null, "domainColor": "black", "domainWidth": 1.5, "grid": true, "gridColor": "#c2c2c2", "gridWidth": 1.8, "gridOpacity": {"condition": {"test": "datum.value % 2.5 === 0", "value": 1}, "value": 0}}}, "y": {"datum": -67, "type": "quantitative", "scale": {"domain": [-81, 80], "nice": false, "zero": false}, "axis": null}, "text": {"field": "t", "type": "nominal"}}}
]},
{"width": 312, "height": 161, "layer": [
 {"transform": [{"filter": "datum.p == 4"}],
  "encoding": {
   "x": {"field": "x", "type": "quantitative", "scale": {"domain": [785, 805], "nice": false, "zero": false},
         "axis": {"values": [785,786,787,787.5,788,789,790,791,792,792.5,793,794,795,796,797,797.5,798,799,800,801,802,802.5,803,804,805], "labels": false, "ticks": true, "tickSize": 3, "tickColor": "black", "tickWidth": 1, "tickOpacity": {"condition": {"test": "datum.value % 1 === 0", "value": 1}, "value": 0}, "title": null, "domainColor": "black", "domainWidth": 1.5, "grid": true, "gridColor": "#c2c2c2", "gridWidth": 1.8, "gridOpacity": {"condition": {"test": "datum.value % 2.5 === 0", "value": 1}, "value": 0}}},
   "y": {"field": "y", "type": "quantitative", "stack": null, "scale": {"domain": [-81, 80], "nice": false, "zero": false}, "axis": null}},
  "layer": [
   {"transform": [{"filter": "indexof(['v','m','bl','cy','dg','g','y','o','r','or'], datum.c) >= 0"}], "mark": {"type": "area", "clip": true, "interpolate": "linear"}, "encoding": {"color": {"field": "c", "type": "nominal", "legend": null, "scale": {"domain": ["v","m","bl","cy","dg","g","y","o","r","or"], "range": ["#9900cc","#ff00ff","#0000ee","#00bfff","#006633","#33cc33","#ffcc00","#ff6600","#ff0000","#cc3300"]}}}},
   {"transform": [{"filter": "datum.c == 'ds'"}], "mark": {"type": "line", "color": "black", "strokeWidth": 2.6, "strokeDash": [14, 6], "interpolate": "monotone", "clip": true}, "encoding": {}},
   {"transform": [{"filter": "datum.c == 'st'"}], "mark": {"type": "rule", "color": "black", "strokeWidth": 1.2}, "encoding": {"y2": {"datum": 0}}},
   {"transform": [{"filter": "datum.c == 'st'"}], "mark": {"type": "point", "shape": "circle", "filled": true, "fill": "#f7a24a", "stroke": "black", "strokeWidth": 1, "size": 46, "opacity": 1}}
  ]},
 {"data": {"values": [{"t": "-0.8dB,"}]}, "mark": {"type": "text", "align": "left", "baseline": "alphabetic", "font": "Liberation Sans", "fontSize": 23, "fill": "black"}, "encoding": {"x": {"datum": 785.25, "type": "quantitative", "scale": {"domain": [785, 805], "nice": false, "zero": false}, "axis": {"values": [785,786,787,787.5,788,789,790,791,792,792.5,793,794,795,796,797,797.5,798,799,800,801,802,802.5,803,804,805], "labels": false, "ticks": true, "tickSize": 3, "tickColor": "black", "tickWidth": 1, "tickOpacity": {"condition": {"test": "datum.value % 1 === 0", "value": 1}, "value": 0}, "title": null, "domainColor": "black", "domainWidth": 1.5, "grid": true, "gridColor": "#c2c2c2", "gridWidth": 1.8, "gridOpacity": {"condition": {"test": "datum.value % 2.5 === 0", "value": 1}, "value": 0}}}, "y": {"datum": -69, "type": "quantitative", "scale": {"domain": [-81, 80], "nice": false, "zero": false}, "axis": null}, "text": {"field": "t", "type": "nominal"}}},
 {"data": {"values": [{"t": "x"}]}, "mark": {"type": "text", "align": "left", "baseline": "alphabetic", "font": "Liberation Serif", "fontStyle": "italic", "fontSize": 27, "fill": "black"}, "encoding": {"x": {"datum": 790.54, "type": "quantitative", "scale": {"domain": [785, 805], "nice": false, "zero": false}, "axis": {"values": [785,786,787,787.5,788,789,790,791,792,792.5,793,794,795,796,797,797.5,798,799,800,801,802,802.5,803,804,805], "labels": false, "ticks": true, "tickSize": 3, "tickColor": "black", "tickWidth": 1, "tickOpacity": {"condition": {"test": "datum.value % 1 === 0", "value": 1}, "value": 0}, "title": null, "domainColor": "black", "domainWidth": 1.5, "grid": true, "gridColor": "#c2c2c2", "gridWidth": 1.8, "gridOpacity": {"condition": {"test": "datum.value % 2.5 === 0", "value": 1}, "value": 0}}}, "y": {"datum": -69, "type": "quantitative", "scale": {"domain": [-81, 80], "nice": false, "zero": false}, "axis": null}, "text": {"field": "t", "type": "nominal"}}}
]},
{"width": 312, "height": 162, "layer": [
 {"transform": [{"filter": "datum.p == 5"}],
  "encoding": {
   "x": {"field": "x", "type": "quantitative", "scale": {"domain": [785, 805], "nice": false, "zero": false},
         "axis": {"values": [785,786,787,787.5,788,789,790,791,792,792.5,793,794,795,796,797,797.5,798,799,800,801,802,802.5,803,804,805], "labels": true, "labelExpr": "datum.value === 790 || datum.value === 795 || datum.value === 800 ? datum.label : ''", "labelOverlap": false, "labelFlush": false, "labelFont": "Liberation Sans", "labelFontSize": 23, "labelColor": "black", "labelPadding": 3, "ticks": true, "tickSize": 3, "tickColor": "black", "tickWidth": 1, "tickOpacity": {"condition": {"test": "datum.value % 1 === 0", "value": 1}, "value": 0}, "title": "Wavelength (nm)", "titleFont": "Liberation Sans", "titleFontSize": 24, "titleFontWeight": "normal", "titleColor": "black", "titlePadding": 6, "domainColor": "black", "domainWidth": 1.5, "grid": true, "gridColor": "#c2c2c2", "gridWidth": 1.8, "gridOpacity": {"condition": {"test": "datum.value % 2.5 === 0", "value": 1}, "value": 0}}},
   "y": {"field": "y", "type": "quantitative", "stack": null, "scale": {"domain": [-82, 80], "nice": false, "zero": false}, "axis": null}},
  "layer": [
   {"transform": [{"filter": "indexof(['v','m','bl','cy','dg','g','y','o','r','or'], datum.c) >= 0"}], "mark": {"type": "area", "clip": true, "interpolate": "linear"}, "encoding": {"color": {"field": "c", "type": "nominal", "legend": null, "scale": {"domain": ["v","m","bl","cy","dg","g","y","o","r","or"], "range": ["#9900cc","#ff00ff","#0000ee","#00bfff","#006633","#33cc33","#ffcc00","#ff6600","#ff0000","#cc3300"]}}}},
   {"transform": [{"filter": "datum.c == 'ds'"}], "mark": {"type": "line", "color": "black", "strokeWidth": 2.6, "strokeDash": [14, 6], "interpolate": "monotone", "clip": true}, "encoding": {}},
   {"transform": [{"filter": "datum.c == 'st'"}], "mark": {"type": "rule", "color": "black", "strokeWidth": 1.2}, "encoding": {"y2": {"datum": 0}}},
   {"transform": [{"filter": "datum.c == 'st'"}], "mark": {"type": "point", "shape": "circle", "filled": true, "fill": "#f7a24a", "stroke": "black", "strokeWidth": 1, "size": 46, "opacity": 1}}
  ]},
 {"data": {"values": [{"t": "-2.4dB,"}]}, "mark": {"type": "text", "align": "left", "baseline": "alphabetic", "font": "Liberation Sans", "fontSize": 23, "fill": "black"}, "encoding": {"x": {"datum": 785.25, "type": "quantitative", "scale": {"domain": [785, 805], "nice": false, "zero": false}, "axis": {"values": [785,786,787,787.5,788,789,790,791,792,792.5,793,794,795,796,797,797.5,798,799,800,801,802,802.5,803,804,805], "labels": true, "labelExpr": "datum.value === 790 || datum.value === 795 || datum.value === 800 ? datum.label : ''", "labelOverlap": false, "labelFlush": false, "labelFont": "Liberation Sans", "labelFontSize": 23, "labelColor": "black", "labelPadding": 3, "ticks": true, "tickSize": 3, "tickColor": "black", "tickWidth": 1, "tickOpacity": {"condition": {"test": "datum.value % 1 === 0", "value": 1}, "value": 0}, "title": "Wavelength (nm)", "titleFont": "Liberation Sans", "titleFontSize": 24, "titleFontWeight": "normal", "titleColor": "black", "titlePadding": 6, "domainColor": "black", "domainWidth": 1.5, "grid": true, "gridColor": "#c2c2c2", "gridWidth": 1.8, "gridOpacity": {"condition": {"test": "datum.value % 2.5 === 0", "value": 1}, "value": 0}}}, "y": {"datum": -69, "type": "quantitative", "scale": {"domain": [-82, 80], "nice": false, "zero": false}, "axis": null}, "text": {"field": "t", "type": "nominal"}}},
 {"data": {"values": [{"t": "x"}]}, "mark": {"type": "text", "align": "left", "baseline": "alphabetic", "font": "Liberation Serif", "fontStyle": "italic", "fontSize": 27, "fill": "black"}, "encoding": {"x": {"datum": 790.54, "type": "quantitative", "scale": {"domain": [785, 805], "nice": false, "zero": false}, "axis": {"values": [785,786,787,787.5,788,789,790,791,792,792.5,793,794,795,796,797,797.5,798,799,800,801,802,802.5,803,804,805], "labels": true, "labelExpr": "datum.value === 790 || datum.value === 795 || datum.value === 800 ? datum.label : ''", "labelOverlap": false, "labelFlush": false, "labelFont": "Liberation Sans", "labelFontSize": 23, "labelColor": "black", "labelPadding": 3, "ticks": true, "tickSize": 3, "tickColor": "black", "tickWidth": 1, "tickOpacity": {"condition": {"test": "datum.value % 1 === 0", "value": 1}, "value": 0}, "title": "Wavelength (nm)", "titleFont": "Liberation Sans", "titleFontSize": 24, "titleFontWeight": "normal", "titleColor": "black", "titlePadding": 6, "domainColor": "black", "domainWidth": 1.5, "grid": true, "gridColor": "#c2c2c2", "gridWidth": 1.8, "gridOpacity": {"condition": {"test": "datum.value % 2.5 === 0", "value": 1}, "value": 0}}}, "y": {"datum": -69, "type": "quantitative", "scale": {"domain": [-82, 80], "nice": false, "zero": false}, "axis": null}, "text": {"field": "t", "type": "nominal"}}}
]},
{"width": 312, "height": 162, "layer": [
 {"transform": [{"filter": "datum.p == 6"}],
  "encoding": {
   "x": {"field": "x", "type": "quantitative", "scale": {"domain": [785, 805], "nice": false, "zero": false},
         "axis": {"values": [785,786,787,787.5,788,789,790,791,792,792.5,793,794,795,796,797,797.5,798,799,800,801,802,802.5,803,804,805], "labels": true, "labelExpr": "datum.value === 790 || datum.value === 795 || datum.value === 800 ? datum.label : ''", "labelOverlap": false, "labelFlush": false, "labelFont": "Liberation Sans", "labelFontSize": 23, "labelColor": "black", "labelPadding": 3, "ticks": true, "tickSize": 3, "tickColor": "black", "tickWidth": 1, "tickOpacity": {"condition": {"test": "datum.value % 1 === 0", "value": 1}, "value": 0}, "title": "Wavelength (nm)", "titleFont": "Liberation Sans", "titleFontSize": 24, "titleFontWeight": "normal", "titleColor": "black", "titlePadding": 6, "domainColor": "black", "domainWidth": 1.5, "grid": true, "gridColor": "#c2c2c2", "gridWidth": 1.8, "gridOpacity": {"condition": {"test": "datum.value % 2.5 === 0", "value": 1}, "value": 0}}},
   "y": {"field": "y", "type": "quantitative", "stack": null, "scale": {"domain": [-82, 80], "nice": false, "zero": false}, "axis": null}},
  "layer": [
   {"transform": [{"filter": "indexof(['v','m','bl','cy','dg','g','y','o','r','or'], datum.c) >= 0"}], "mark": {"type": "area", "clip": true, "interpolate": "linear"}, "encoding": {"color": {"field": "c", "type": "nominal", "legend": null, "scale": {"domain": ["v","m","bl","cy","dg","g","y","o","r","or"], "range": ["#9900cc","#ff00ff","#0000ee","#00bfff","#006633","#33cc33","#ffcc00","#ff6600","#ff0000","#cc3300"]}}}},
   {"transform": [{"filter": "datum.c == 'ds'"}], "mark": {"type": "line", "color": "black", "strokeWidth": 2.6, "strokeDash": [14, 6], "interpolate": "monotone", "clip": true}, "encoding": {}},
   {"transform": [{"filter": "datum.c == 'st'"}], "mark": {"type": "rule", "color": "black", "strokeWidth": 1.2}, "encoding": {"y2": {"datum": 0}}},
   {"transform": [{"filter": "datum.c == 'st'"}], "mark": {"type": "point", "shape": "circle", "filled": true, "fill": "#f7a24a", "stroke": "black", "strokeWidth": 1, "size": 46, "opacity": 1}}
  ]},
 {"data": {"values": [{"t": "-0.5dB,"}]}, "mark": {"type": "text", "align": "left", "baseline": "alphabetic", "font": "Liberation Sans", "fontSize": 23, "fill": "black"}, "encoding": {"x": {"datum": 785.25, "type": "quantitative", "scale": {"domain": [785, 805], "nice": false, "zero": false}, "axis": {"values": [785,786,787,787.5,788,789,790,791,792,792.5,793,794,795,796,797,797.5,798,799,800,801,802,802.5,803,804,805], "labels": true, "labelExpr": "datum.value === 790 || datum.value === 795 || datum.value === 800 ? datum.label : ''", "labelOverlap": false, "labelFlush": false, "labelFont": "Liberation Sans", "labelFontSize": 23, "labelColor": "black", "labelPadding": 3, "ticks": true, "tickSize": 3, "tickColor": "black", "tickWidth": 1, "tickOpacity": {"condition": {"test": "datum.value % 1 === 0", "value": 1}, "value": 0}, "title": "Wavelength (nm)", "titleFont": "Liberation Sans", "titleFontSize": 24, "titleFontWeight": "normal", "titleColor": "black", "titlePadding": 6, "domainColor": "black", "domainWidth": 1.5, "grid": true, "gridColor": "#c2c2c2", "gridWidth": 1.8, "gridOpacity": {"condition": {"test": "datum.value % 2.5 === 0", "value": 1}, "value": 0}}}, "y": {"datum": -69, "type": "quantitative", "scale": {"domain": [-82, 80], "nice": false, "zero": false}, "axis": null}, "text": {"field": "t", "type": "nominal"}}},
 {"data": {"values": [{"t": "p"}]}, "mark": {"type": "text", "align": "left", "baseline": "alphabetic", "font": "Liberation Serif", "fontStyle": "italic", "fontSize": 27, "fill": "black"}, "encoding": {"x": {"datum": 790.54, "type": "quantitative", "scale": {"domain": [785, 805], "nice": false, "zero": false}, "axis": {"values": [785,786,787,787.5,788,789,790,791,792,792.5,793,794,795,796,797,797.5,798,799,800,801,802,802.5,803,804,805], "labels": true, "labelExpr": "datum.value === 790 || datum.value === 795 || datum.value === 800 ? datum.label : ''", "labelOverlap": false, "labelFlush": false, "labelFont": "Liberation Sans", "labelFontSize": 23, "labelColor": "black", "labelPadding": 3, "ticks": true, "tickSize": 3, "tickColor": "black", "tickWidth": 1, "tickOpacity": {"condition": {"test": "datum.value % 1 === 0", "value": 1}, "value": 0}, "title": "Wavelength (nm)", "titleFont": "Liberation Sans", "titleFontSize": 24, "titleFontWeight": "normal", "titleColor": "black", "titlePadding": 6, "domainColor": "black", "domainWidth": 1.5, "grid": true, "gridColor": "#c2c2c2", "gridWidth": 1.8, "gridOpacity": {"condition": {"test": "datum.value % 2.5 === 0", "value": 1}, "value": 0}}}, "y": {"datum": -69, "type": "quantitative", "scale": {"domain": [-82, 80], "nice": false, "zero": false}, "axis": null}, "text": {"field": "t", "type": "nominal"}}}
]}
],
"config": {"view": {"stroke": null}, "font": "Liberation Sans"}
}
